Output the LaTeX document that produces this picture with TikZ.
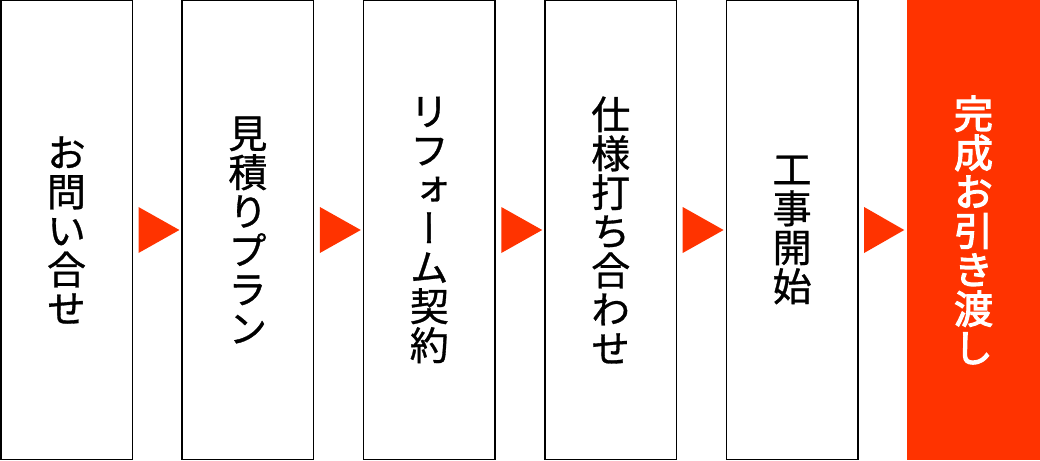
\documentclass[tikz,border=0pt]{standalone}
\usepackage{fontspec}
\newfontfamily\jpv[RawFeature=+vert, FakeBold=0.8]{Noto Sans CJK JP}
\newfontfamily\jpvm[RawFeature=+vert, FakeBold=3]{Noto Sans CJK JP}
\usetikzlibrary{calc}
\definecolor{stepred}{HTML}{FF3300}
\begin{document}
\begin{tikzpicture}[x=1pt,y=-1pt,
  stepbox/.style={draw=black, line width=1.5pt, fill=white, minimum width=131.5pt, minimum height=458.5pt,
    inner sep=0pt, align=center, font=\jpv\fontsize{39}{39}\selectfont},
  lastbox/.style={stepbox, draw=none, fill=stepred, text=white, font=\jpvm\fontsize{39}{39}\selectfont},
  marker/.style={fill=stepred}]
\useasboundingbox (0,0) rectangle (1040,460);
\node[stepbox] (b1) at (66.5,230) {お\\問\\い\\合\\せ};
\node[stepbox] (b2) at (247.9,230) {見\\積\\り\\プ\\ラ\\ン};
\node[stepbox] (b3) at (429.3,230) {リ\\フ\\ォ\\ー\\ム\\契\\約};
\node[stepbox] (b4) at (610.7,230) {仕\\様\\打\\ち\\合\\わ\\せ};
\node[stepbox] (b5) at (792.1,230) {工\\事\\開\\始};
\node[lastbox, minimum width=133pt, minimum height=460pt] (b6) at (973.5,230) {完\\成\\お\\引\\き\\渡\\し};
\foreach \a/\b in {b1/b2,b2/b3,b3/b4,b4/b5,b5/b6}{
  \fill[marker] ($(\a.east)+(5.5,-23)$) -- ($(\b.west)+(-2,0)$) -- ($(\a.east)+(5.5,23)$) -- cycle;
}
\end{tikzpicture}
\end{document}
